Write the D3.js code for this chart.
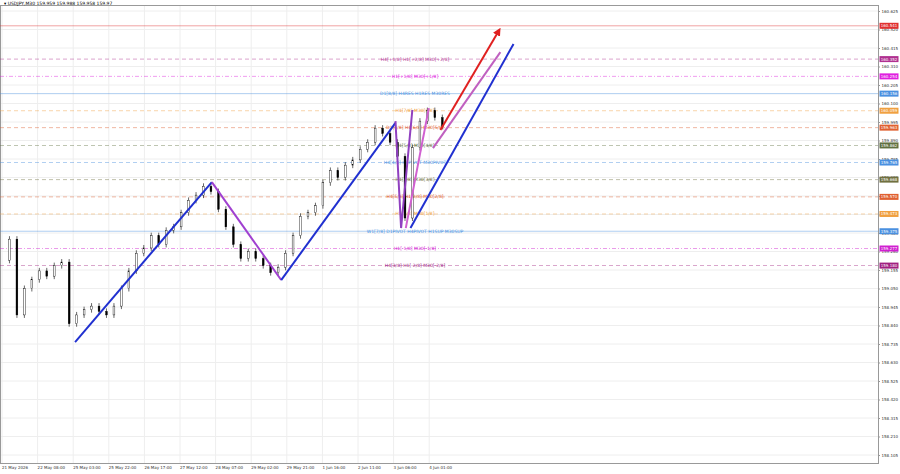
<!DOCTYPE html><html><head><meta charset="utf-8"><script src="https://cdn.jsdelivr.net/npm/d3@7"></script>
<style>body{margin:0;background:#fff}text{font-family:"DejaVu Sans",sans-serif}</style></head><body><svg id="c" width="900" height="474"></svg>
<script>
const title="USDJPY,M30  159.959 159.988 159.958 159.97";
const closes=[159.21,159.33,158.90,159.05,159.10,159.15,159.12,159.18,159.20,158.85,158.90,158.93,158.95,158.92,158.90,158.95,159.05,159.15,159.25,159.28,159.35,159.30,159.38,159.40,159.48,159.55,159.58,159.63,159.60,159.50,159.40,159.30,159.22,159.26,159.22,159.18,159.14,159.17,159.25,159.35,159.46,159.48,159.52,159.65,159.72,159.68,159.75,159.78,159.84,159.88,159.96,159.93,159.88,159.80,159.45,159.85,160.00,160.06,160.02,159.97];
const priceTicks=[160.625,160.520,160.415,160.310,160.205,160.100,159.995,159.890,159.785,159.680,159.575,159.470,159.365,159.260,159.155,159.050,158.945,158.840,158.735,158.630,158.525,158.420,158.315,158.210,158.105];
const timeLabels=["21 May 2026","22 May 08:00","25 May 03:00","25 May 22:00","26 May 17:00","27 May 12:00","28 May 07:00","29 May 02:00","29 May 21:00","1 Jun 16:00","2 Jun 11:00","3 Jun 06:00","4 Jun 01:00"];
const levelPrices=[160.541,160.352,160.254,160.156,160.059,159.963,159.862,159.765,159.668,159.570,159.473,159.375,159.277,159.180];
const levelNames=["","H4[+1/8] H1[+2/8] M30[+2/8]","H1[+1/8] M30[+1/8]","D1[8/8] H4RES H1RES M30RES","H1[7/8] M30[6/8]","D1[6/8] H1[6/8] M30[5/8]","H1[5/8] M30[4/8]","H4[4/8] H1PIVOT M30PIVOT","H1[3/8] M30[3/8]","H4[5/8] H1[2/8] M30[2/8]","H1[1/8] M30[1/8]","W1[7/8] D1PIVOT H4PIVOT H1SUP M30SUP","H1[-1/8] M30[-1/8]","H4[3/8] H1[-2/8] M30[-2/8]"];
const levelColors=["#e03030","#b03090","#e020e0","#4a90e0","#f0a040","#e06030","#607040","#4a90e0","#707040","#e06030","#f0a040","#4a90e0","#d020d0","#a02080"];
const trendLines=[
 {c:"#2030d0",p:[[39,158.746],[112,159.654]]},
 {c:"#a040d0",p:[[112,159.654],[149,159.098]]},
 {c:"#2030d0",p:[[149,159.098],[210,159.99]]},
 {c:"#9040c0",p:[[210,160.0],[213,159.393],[219,160.063]]},
 {c:"#d060d0",p:[[215.5,159.393],[227.8,160.074]]},
 {c:"#2030d0",p:[[218,159.393],[273,160.438]]},
 {c:"#c060c0",p:[[230,159.847],[266,160.392]]},
 {c:"#e02020",p:[[234,159.95],[265,160.51]],arrow:true}];
const svg=d3.select("#c");
const R=878,B=463;
const y=d3.scaleLinear().domain([158.105,160.625]).range([455,11]);
const x=d3.scaleLinear().domain([0,19]).range([2,37.6]);
const defs=svg.append("defs");
defs.append("marker").attr("id","ar").attr("viewBox","0 0 10 10").attr("refX",5).attr("refY",5).attr("markerWidth",4).attr("markerHeight",4).attr("orient","auto").append("path").attr("d","M0,0L10,5L0,10z").attr("fill","#e02020");
const g=svg.append("g");
timeLabels.forEach((t,i)=>g.append("line").attr("x1",x(i*19)).attr("x2",x(i*19)).attr("y1",5).attr("y2",B).attr("stroke","#eee"));
priceTicks.forEach(p=>g.append("line").attr("x1",0).attr("x2",R).attr("y1",y(p)).attr("y2",y(p)).attr("stroke","#eee"));
svg.append("rect").attr("x",0.5).attr("y",5.5).attr("width",R).attr("height",B-5).attr("fill","none").attr("stroke","#999");
levelPrices.forEach((p,i)=>{
 const dash=i==0||i==3||i==11?null:(i==2||i==12?"4,2,1,2":"4,3");
 svg.append("line").attr("x1",0).attr("x2",R).attr("y1",y(p)).attr("y2",y(p)).attr("stroke",levelColors[i]).attr("stroke-width",0.8).attr("opacity",0.55).attr("stroke-dasharray",dash);
 if(levelNames[i]) svg.append("text").attr("x",415).attr("y",y(p)+1.5).attr("text-anchor","middle").attr("font-size",4.5).attr("fill",levelColors[i]).text(levelNames[i]);
});
const step=235/(closes.length-1);
closes.forEach((c,i)=>{
 if(!i)return;const o=closes[i-1];const xi=x(i*step);
 svg.append("line").attr("x1",xi).attr("x2",xi).attr("y1",y(Math.max(o,c))-3).attr("y2",y(Math.min(o,c))+3).attr("stroke","#000").attr("stroke-width",0.6);
 svg.append("rect").attr("x",xi-0.9).attr("width",1.8).attr("y",y(Math.max(o,c))).attr("height",Math.max(1,Math.abs(y(o)-y(c)))).attr("fill",c>=o?"#fff":"#000").attr("stroke","#000").attr("stroke-width",0.4);
});
const ln=d3.line().x(d=>x(d[0])).y(d=>y(d[1]));
trendLines.forEach(t=>svg.append("path").attr("d",ln(t.p)).attr("fill","none").attr("stroke",t.c).attr("stroke-width",2).attr("marker-end",t.arrow?"url(#ar)":null));
const ax=svg.append("g").attr("transform",`translate(${R},0)`).call(d3.axisRight(y).tickValues(priceTicks).tickSize(2).tickPadding(1.5).tickFormat(d3.format(".3f")));
ax.selectAll("text").attr("font-size",4).attr("fill","#333");ax.select(".domain").remove();ax.selectAll("line").attr("stroke","#999");
levelPrices.forEach((p,i)=>{svg.append("rect").attr("x",R+1.5).attr("y",y(p)-3).attr("width",19).attr("height",6).attr("fill",levelColors[i]);
 svg.append("text").attr("x",R+11).attr("y",y(p)+1.4).attr("text-anchor","middle").attr("font-size",4).attr("fill","#fff").text(p.toFixed(3));});
timeLabels.forEach((t,i)=>svg.append("text").attr("x",x(i*19)).attr("y",B+6).attr("text-anchor","start").attr("font-size",4).attr("fill","#333").text(t));
svg.append("text").attr("x",4).attr("y",4.5).attr("font-size",4.5).attr("fill","#000").text("▾ "+title);
</script></body></html>
